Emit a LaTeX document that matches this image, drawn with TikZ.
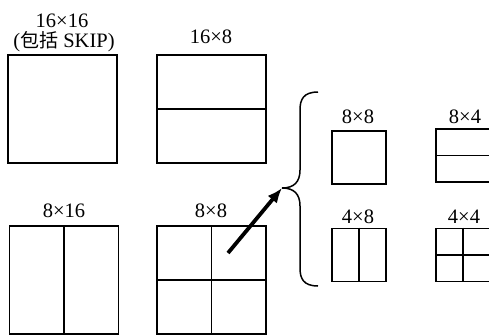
\documentclass[tikz,border=0pt]{standalone}
\usepackage{fontspec}
\setmainfont{Liberation Serif}
\newfontfamily\cjk{Noto Sans CJK SC}
\usetikzlibrary{arrows.meta}
\begin{document}
\begin{tikzpicture}[x=1pt,y=-1pt,
  blk/.style={draw,line width=1.7pt,inner sep=0pt},
  bigblk/.style={blk,minimum width=109pt,minimum height=108pt},
  smallblk/.style={blk,minimum width=54pt,minimum height=53pt},
  split/.style={line width=1.7pt},
  lbl/.style={anchor=base,inner sep=0pt,font=\fontsize{20.5}{23}\selectfont},
  brace/.style={line width=1.5pt},
  pointer/.style={line width=3.8pt,-{Latex[length=15pt,width=12pt]}}]
\useasboundingbox (0,0) rectangle (489,335);

% 16x16 and 16x8 partitions
\node[lbl] (t1a) at (62,27) {16×16};
\node[lbl] (t1b) at (64,47) {(\cjk\fontsize{19}{23}\selectfont 包括\rmfamily\fontsize{20.5}{23}\selectfont\ SKIP)};
\node[bigblk] (p1) at (62.5,109) {};
\node[lbl] (t2) at (211,43) {16×8};
\node[bigblk] (p2) at (211.5,109) {};
\draw[split] (p2.west) -- (p2.east);

% 8x16 and 8x8 partitions
\node[lbl] (t3) at (64,217) {8×16};
\node[bigblk] (p3) at (64,280) {};
\draw[split] (p3.north) -- (p3.south);
\node[lbl] (t4) at (211,217) {8×8};
\node[bigblk] (p4) at (211.5,280) {};
\draw[split] (p4.west) -- (p4.east);
\draw[split] (p4.north) -- (p4.south);

% sub-partitions of an 8x8 block
\node[lbl] (t5) at (358,123) {8×8};
\node[smallblk] (q1) at (359,157.5) {};
\node[lbl] (t6) at (465,123) {8×4};
\node[smallblk] (q2) at (463,155.5) {};
\draw[split] (q2.west) -- (q2.east);
\node[lbl] (t7) at (358,223) {4×8};
\node[smallblk] (q3) at (359,255) {};
\draw[split] (q3.north) -- (q3.south);
\node[lbl] (t8) at (464,223) {4×4};
\node[smallblk] (q4) at (463,255) {};
\draw[split] (q4.west) -- (q4.east);
\draw[split] (q4.north) -- (q4.south);

% brace grouping the sub-partitions
\coordinate (btop) at (318,92);
\coordinate (bmid) at (282,188);
\coordinate (bbot) at (318,286);
\draw[brace] (btop) .. controls (303,92) and (300,100) .. (300,110)
  -- (300,170) .. controls (300,182) and (294,188) .. (bmid)
  .. controls (294,188) and (300,194) .. (300,206)
  -- (300,268) .. controls (300,278) and (303,286) .. (bbot);

% arrow from the 8x8 quadrant to the brace
\coordinate (astart) at (228,253);
\draw[pointer] (astart) -- (bmid);
\end{tikzpicture}
\end{document}
